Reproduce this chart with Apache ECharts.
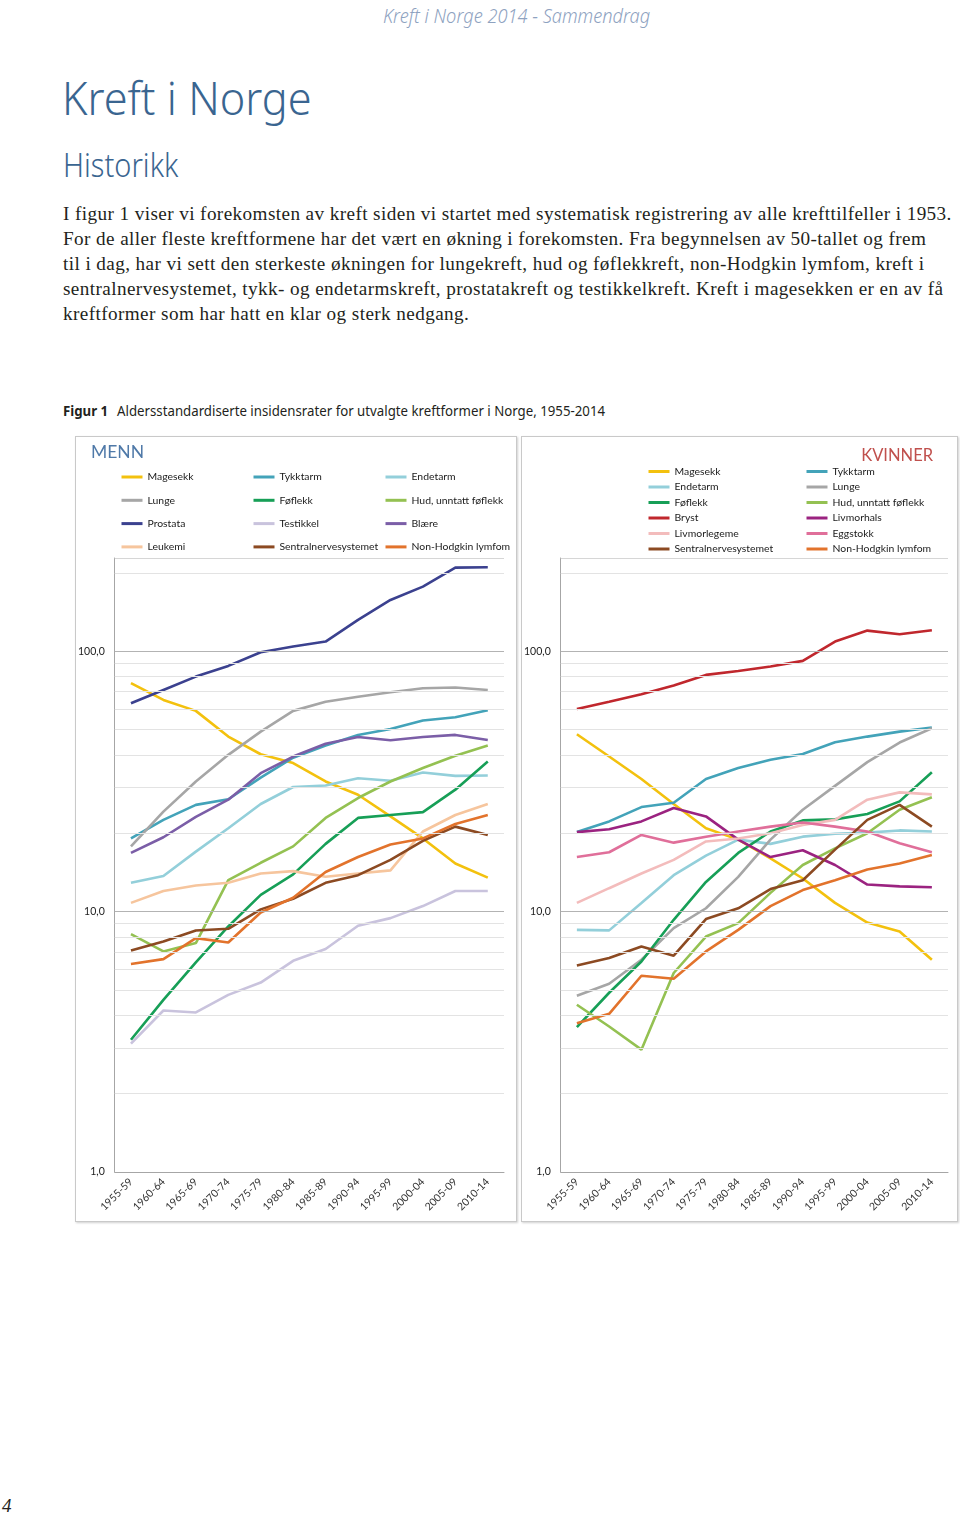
<!DOCTYPE html>
<html><head><meta charset="utf-8">
<script src="https://cdn.jsdelivr.net/npm/echarts@6/dist/echarts.min.js"></script>
<style>
html,body{margin:0;padding:0;background:#fff;}
body{width:960px;height:1516px;position:relative;overflow:hidden;}
.abs{position:absolute;white-space:nowrap;}
#header{left:383px;top:2px;font-family:"Noto Sans",sans-serif;font-style:italic;font-weight:300;font-size:20px;color:#8ea2bf;transform:scaleX(0.91);transform-origin:left top;}
#title{left:62px;top:66px;font-family:"Noto Sans",sans-serif;font-weight:300;font-size:46px;color:#3a6590;transform:scaleX(0.94);transform-origin:left top;}
#sub{left:63px;top:142px;font-family:"Noto Sans",sans-serif;font-weight:300;font-size:33px;color:#3a6590;transform:scaleX(0.88);transform-origin:left top;}
.body{left:63px;font-family:"Liberation Serif","Times New Roman",serif;font-size:19.2px;letter-spacing:0.4px;color:#231f20;}
#cap{left:63px;top:400px;font-family:"Noto Sans",sans-serif;font-size:14.5px;color:#231f20;transform:scaleX(0.913);transform-origin:left top;}
#cap b{font-weight:700;margin-right:6px;}
.panel{position:absolute;box-sizing:border-box;border:1px solid #c9c9c9;box-shadow:1px 1px 2px #d0d0d0;pointer-events:none;}
.chart{position:absolute;}
#pg{left:2px;top:1495px;font-family:"Liberation Serif",serif;font-style:italic;font-size:19px;color:#231f20;}
</style></head>
<body>
<div class="abs" id="header">Kreft i Norge 2014 - Sammendrag</div>
<div class="abs" id="title">Kreft i Norge</div>
<div class="abs" id="sub">Historikk</div>
<div class="abs body" style="top:203px">I figur 1 viser vi forekomsten av kreft siden vi startet med systematisk registrering av alle krefttilfeller i 1953.</div>
<div class="abs body" style="top:228px">For de aller fleste kreftformene har det vært en økning i forekomsten. Fra begynnelsen av 50-tallet og frem</div>
<div class="abs body" style="top:253px">til i dag, har vi sett den sterkeste økningen for lungekreft, hud og føflekkreft, non-Hodgkin lymfom, kreft i</div>
<div class="abs body" style="top:278px">sentralnervesystemet, tykk- og endetarmskreft, prostatakreft og testikkelkreft. Kreft i magesekken er en av få</div>
<div class="abs body" style="top:303px">kreftformer som har hatt en klar og sterk nedgang.</div>
<div class="abs" id="cap"><b>Figur 1</b> Aldersstandardiserte insidensrater for utvalgte kreftformer i Norge, 1955-2014</div>

<div class="chart" id="cMen" style="left:75px;top:436px;width:441px;height:785px;"></div>
<div class="chart" id="cWom" style="left:521px;top:436px;width:436px;height:785px;"></div>
<div class="panel" style="left:75px;top:436px;width:442px;height:786px;"></div>
<div class="panel" style="left:521px;top:436px;width:437px;height:786px;"></div>
<div class="abs" id="pg">4</div>

<script>
const categories = ['1955-59','1960-64','1965-69','1970-74','1975-79','1980-84','1985-89','1990-94','1995-99','2000-04','2005-09','2010-14'];
const yTickLabels = {1:'1,0', 10:'10,0', 100:'100,0'};
const yMin = 1, yMax = 228;

// MENN
const menMagesekk  = [75.4, 65.0, 59.0, 47.0, 40.2, 37.2, 31.6, 28.1, 23.2, 19.1, 15.3, 13.5];
const menTykktarm  = [19.1, 22.5, 25.7, 27.0, 32.7, 39.0, 43.4, 47.7, 50.3, 54.2, 55.8, 59.3];
const menEndetarm  = [12.9, 13.7, 17.0, 20.9, 25.9, 30.1, 30.5, 32.5, 31.8, 34.2, 33.2, 33.3];
const menLunge     = [17.8, 24.2, 31.6, 40.0, 49.1, 59.0, 64.0, 66.9, 69.6, 72.1, 72.5, 71.0];
const menFoflekk   = [3.22, 4.58, 6.38, 8.77, 11.6, 13.9, 18.2, 22.9, 23.5, 24.1, 29.4, 37.7];
const menHud       = [8.20, 7.03, 7.57, 13.2, 15.4, 17.8, 22.9, 27.3, 31.6, 35.6, 39.7, 43.4];
const menProstata  = [63.1, 71.0, 79.9, 87.8, 99.1, 104.2, 108.9, 131.9, 157.3, 177.0, 209.4, 210.0];
const menTestikkel = [3.11, 4.17, 4.10, 4.79, 5.34, 6.47, 7.18, 8.82, 9.44, 10.5, 12.0, 12.0];
const menBlaere    = [16.8, 19.3, 23.1, 26.9, 34.0, 39.4, 44.1, 46.8, 45.5, 46.8, 47.7, 45.6];
const menLeukemi   = [10.8, 12.0, 12.6, 12.9, 14.0, 14.3, 13.6, 14.0, 14.4, 20.3, 23.5, 25.9];
const menSNS       = [7.09, 7.68, 8.46, 8.59, 10.2, 11.2, 12.9, 13.8, 15.8, 18.7, 21.2, 19.7];
const menNHL       = [6.29, 6.57, 7.91, 7.61, 9.92, 11.3, 14.2, 16.2, 18.1, 19.1, 21.7, 23.5];

// KVINNER
const womMagesekk     = [48.0, 39.4, 32.3, 25.9, 20.9, 18.9, 16.0, 13.4, 10.8, 9.08, 8.39, 6.53];
const womTykktarm     = [20.2, 22.2, 25.2, 26.2, 32.3, 35.6, 38.3, 40.3, 44.7, 47.0, 49.1, 50.9];
const womEndetarm     = [8.51, 8.47, 10.8, 13.8, 16.4, 18.9, 18.2, 19.4, 19.9, 20.1, 20.5, 20.3];
const womLunge        = [4.75, 5.28, 6.53, 8.64, 10.3, 13.6, 18.9, 24.6, 30.4, 37.5, 44.6, 50.6];
const womFoflekk      = [3.60, 4.88, 6.43, 9.30, 13.0, 16.8, 20.3, 22.4, 22.6, 23.7, 26.5, 34.3];
const womHud          = [4.39, 3.62, 2.95, 5.81, 8.02, 9.03, 11.8, 15.1, 17.5, 20.0, 24.6, 27.5];
const womBryst        = [60.0, 64.0, 68.4, 73.8, 81.1, 84.0, 87.3, 91.8, 108.9, 120.0, 116.2, 120.4];
const womLivmorhals   = [20.2, 20.7, 22.2, 25.0, 23.2, 18.9, 16.2, 17.2, 15.1, 12.7, 12.5, 12.4];
const womLivmorlegeme = [10.8, 12.3, 14.0, 15.8, 18.6, 19.1, 20.0, 21.5, 22.5, 26.9, 28.7, 28.2];
const womEggstokk     = [16.2, 16.9, 19.7, 18.4, 19.4, 20.3, 21.2, 22.0, 21.2, 20.3, 18.3, 16.9];
const womSNS          = [6.21, 6.63, 7.35, 6.77, 9.36, 10.3, 12.2, 13.2, 17.3, 22.5, 25.7, 21.2];
const womNHL          = [3.73, 4.05, 5.67, 5.52, 7.03, 8.51, 10.5, 12.1, 13.2, 14.5, 15.3, 16.5];

const COLORS = {
  'Magesekk':'#f3c10e', 'Tykktarm':'#43a3b9', 'Endetarm':'#93cfda', 'Lunge':'#a6a6a6',
  'Føflekk':'#179f57', 'Hud, unntatt føflekk':'#94c152', 'Prostata':'#3b418f', 'Testikkel':'#c9c3dd',
  'Blære':'#7b5ea7', 'Leukemi':'#f6c59d', 'Sentralnervesystemet':'#8c4a22', 'Non-Hodgkin lymfom':'#e2732c',
  'Bryst':'#c0272d', 'Livmorhals':'#9b2380', 'Livmorlegeme':'#f3bcbc', 'Eggstokk':'#e06f9a'
};

const menSeries = [
  ['Magesekk', menMagesekk], ['Tykktarm', menTykktarm], ['Endetarm', menEndetarm],
  ['Lunge', menLunge], ['Føflekk', menFoflekk], ['Hud, unntatt føflekk', menHud],
  ['Prostata', menProstata], ['Testikkel', menTestikkel], ['Blære', menBlaere],
  ['Leukemi', menLeukemi], ['Sentralnervesystemet', menSNS], ['Non-Hodgkin lymfom', menNHL]
];
const womSeries = [
  ['Magesekk', womMagesekk], ['Tykktarm', womTykktarm], ['Endetarm', womEndetarm],
  ['Lunge', womLunge], ['Føflekk', womFoflekk], ['Hud, unntatt føflekk', womHud],
  ['Bryst', womBryst], ['Livmorhals', womLivmorhals], ['Livmorlegeme', womLivmorlegeme],
  ['Eggstokk', womEggstokk], ['Sentralnervesystemet', womSNS], ['Non-Hodgkin lymfom', womNHL]
];

// gridline positions (log minor lines)
const gridLines = [];
[1, 10, 100].forEach(function (dec) {
  for (let m = 1; m <= 9; m++) {
    const v = m * dec;
    if (v > yMin && v < yMax) gridLines.push(v);
  }
});
gridLines.push(yMax);

const FONT = 'Lato, "Noto Sans", sans-serif';

function build(el, seriesList, legendCols, legendOpts, titleOpt, gridOpt) {
  const chart = echarts.init(document.getElementById(el), null, {renderer: 'canvas'});
  const markData = gridLines.map(function (v) {
    const major = (v === 10 || v === 100);
    return {yAxis: v, lineStyle: {color: major ? '#b3b3b3' : (v === yMax ? '#d6d6d6' : '#e3e3e3'), width: 1, type: 'solid'}};
  });
  const series = [{
    type: 'line', name: '__grid', data: [], z: 1, silent: true,
    markLine: {silent: true, symbol: ['none', 'none'], label: {show: false}, animation: false, data: markData}
  }];
  seriesList.forEach(function (s) {
    series.push({
      type: 'line', name: s[0], data: s[1], symbol: 'none', z: 3,
      lineStyle: {width: 2.6, color: COLORS[s[0]]}, itemStyle: {color: COLORS[s[0]]}
    });
  });
  const legends = legendCols.map(function (col, i) {
    return {
      orient: 'vertical', left: legendOpts.lefts[i], top: legendOpts.top, padding: 0,
      itemWidth: 21, itemHeight: legendOpts.itemHeight, itemGap: legendOpts.gap,
      data: col, selectedMode: false,
      itemStyle: {opacity: 0},
      lineStyle: {width: 3},
      textStyle: {fontFamily: FONT, fontSize: 10.4, lineHeight: legendOpts.itemHeight, color: '#1a1a1a'}
    };
  });
  chart.setOption({
    animation: false,
    title: titleOpt,
    legend: legends,
    grid: gridOpt,
    xAxis: {
      type: 'category', data: categories, boundaryGap: true,
      axisLine: {show: true, onZero: false, lineStyle: {color: '#a6a6a6', width: 1}},
      axisTick: {show: false},
      axisLabel: {rotate: 45, margin: 8, fontFamily: FONT, fontSize: 10.5, color: '#333', interval: 0}
    },
    yAxis: {
      type: 'log', logBase: 10, min: yMin, max: yMax,
      axisLine: {show: true, lineStyle: {color: '#a6a6a6', width: 1}},
      axisTick: {show: false},
      splitLine: {show: false},
      axisLabel: {
        margin: 10, fontFamily: FONT, fontSize: 10.5, color: '#222', showMaxLabel: false,
        formatter: function (v) { const r = Math.round(v); return (Math.abs(v - r) < 1e-6 && yTickLabels[r]) ? yTickLabels[r] : ''; }
      }
    },
    series: series
  });
}

build('cMen', menSeries,
  [['Magesekk', 'Lunge', 'Prostata', 'Leukemi'],
   ['Tykktarm', 'Føflekk', 'Testikkel', 'Sentralnervesystemet'],
   ['Endetarm', 'Hud, unntatt føflekk', 'Blære', 'Non-Hodgkin lymfom']],
  {lefts: [45, 177, 309], top: 34, itemHeight: 14, gap: 9.3},
  {text: 'MENN', left: 16, top: 7, padding: 0, textStyle: {fontFamily: FONT, fontSize: 17.5, fontWeight: 'normal', color: '#4f79a8'}},
  {left: 38, top: 122, width: 391, height: 614});

build('cWom', womSeries,
  [['Magesekk', 'Endetarm', 'Føflekk', 'Bryst', 'Livmorlegeme', 'Sentralnervesystemet'],
   ['Tykktarm', 'Lunge', 'Hud, unntatt føflekk', 'Livmorhals', 'Eggstokk', 'Non-Hodgkin lymfom']],
  {lefts: [126, 284], top: 29.5, itemHeight: 12, gap: 3.5},
  {text: 'KVINNER', right: 24, top: 11, padding: 0, textStyle: {fontFamily: FONT, fontSize: 16.5, fontWeight: 'normal', color: '#c0504d'}},
  {left: 37, top: 122, width: 390, height: 614});
</script>
</body></html>
